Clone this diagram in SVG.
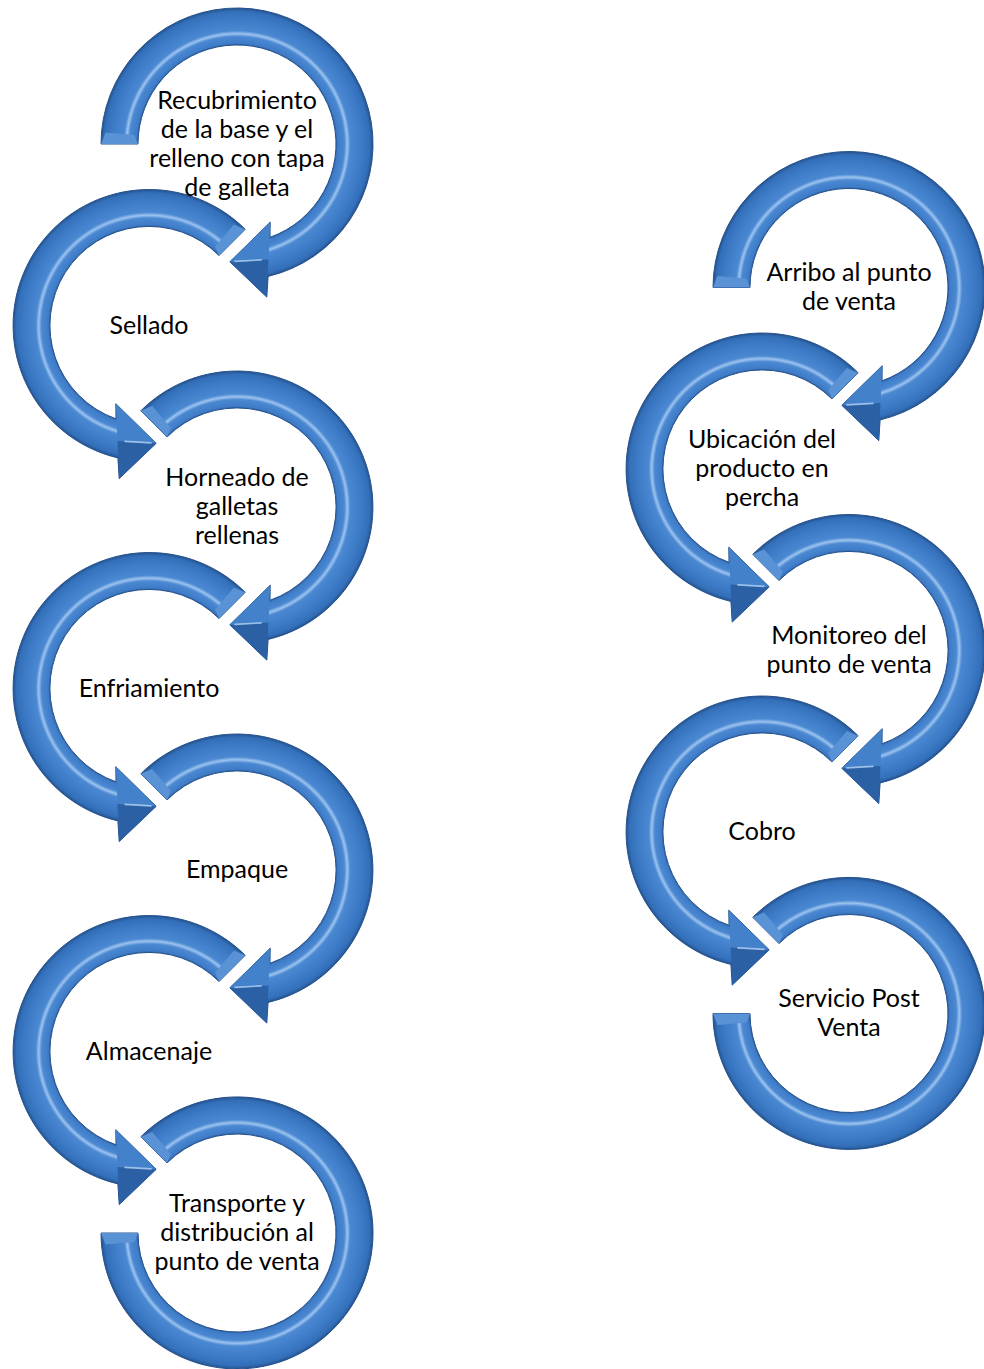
<svg xmlns="http://www.w3.org/2000/svg" xmlns:xlink="http://www.w3.org/1999/xlink" width="984" height="1369" viewBox="0 0 984 1369">
  <style>
    .band { fill: url(#tube); stroke: #24518c; stroke-width: 1; }
    .headHi { fill: #4381cb; }
    .headLo { fill: #2b60a5; }
    .ridge { stroke: #b4d3f4; stroke-width: 1.6; stroke-linecap: round; opacity: 0.8; fill: none; }
    .cap { fill: #5a92d6; }
    .label { font-family: Lato, "Open Sans", sans-serif; font-size: 25px; fill: #000; text-anchor: middle; }
  </style>
  <defs>
    <!-- tube shading across the band, centred on each ring's own origin -->
    <radialGradient id="tube" gradientUnits="userSpaceOnUse" cx="0" cy="0" r="156">
      <stop offset="0.545" stop-color="#2d63a8"/>
      <stop offset="0.632" stop-color="#2a5c9c"/>
      <stop offset="0.646" stop-color="#3f7cc8"/>
      <stop offset="0.688" stop-color="#4a88d2"/>
      <stop offset="0.707" stop-color="#9cc3ef"/>
      <stop offset="0.726" stop-color="#4a88d2"/>
      <stop offset="0.800" stop-color="#3d7bc7"/>
      <stop offset="0.850" stop-color="#336fb9"/>
      <stop offset="0.872" stop-color="#24528e"/>
      <stop offset="1" stop-color="#2a5e9f"/>
    </radialGradient>

    <!-- arrowhead facets shared by the clockwise rings -->
    <g id="head">
      <polygon class="headHi" points="-7.2,117.8 33.2,78.2 31.5,115.6"/>
      <polygon class="headLo" points="-7.2,117.8 29.8,153.1 31.5,115.6"/>
      <line class="ridge" x1="-2" y1="117.4" x2="24" y2="115.9"/>
    </g>

    <!-- first ring: flat tail at 9 o'clock, clockwise to the arrowhead -->
    <g id="ringFirst">
      <path class="band" d="M -136 0 A 136 136 0 1 1 31.1 132.4 L 29.8 153.1 L -7.2 117.8 L 33.2 78.2 L 33.0 93.3 A 99 99 0 1 0 -99 0 Z"/>
      <polygon class="cap" points="-136,0 -131.5,-11.5 -102.6,-9 -99,0"/>
      <use xlink:href="#head"/>
    </g>

    <!-- middle ring: tail at upper left, clockwise to the arrowhead -->
    <g id="ringMid">
      <path class="band" d="M -96.2 -96.2 A 136 136 0 1 1 31.1 132.4 L 29.8 153.1 L -7.2 117.8 L 33.2 78.2 L 33.0 93.3 A 99 99 0 1 0 -70 -70 Z"/>
      <polygon class="cap" points="-96.2,-96.2 -84.8,-101.1 -66.2,-78.9 -70,-70"/>
      <use xlink:href="#head"/>
    </g>

    <!-- last ring: tail at upper left, clockwise to a flat end at 9 o'clock -->
    <g id="ringLast">
      <path class="band" d="M -96.2 -96.2 A 136 136 0 1 1 -136 0 L -99 0 A 99 99 0 1 0 -70 -70 Z"/>
      <polygon class="cap" points="-96.2,-96.2 -84.8,-101.1 -66.2,-78.9 -70,-70"/>
      <polygon class="cap" points="-136,0 -131.5,11.5 -102.6,9 -99,0"/>
    </g>
  </defs>

  <!-- production chain (left column); drawn bottom-up so labels sit above the next ring -->
  <g id="n07">
    <use xlink:href="#ringLast" transform="translate(237,1233)"/>
    <text class="label" x="237" y="1212">Transporte y</text>
    <text class="label" x="237" y="1241">distribución al</text>
    <text class="label" x="237" y="1270">punto de venta</text>
  </g>
  <g id="n06">
    <use xlink:href="#ringMid" transform="translate(149,1051.5) scale(-1,1)"/>
    <text class="label" x="149" y="1059.5">Almacenaje</text>
  </g>
  <g id="n05">
    <use xlink:href="#ringMid" transform="translate(237,870)"/>
    <text class="label" x="237" y="878">Empaque</text>
  </g>
  <g id="n04">
    <use xlink:href="#ringMid" transform="translate(149,688.5) scale(-1,1)"/>
    <text class="label" x="149" y="696.5">Enfriamiento</text>
  </g>
  <g id="n03">
    <use xlink:href="#ringMid" transform="translate(237,507)"/>
    <text class="label" x="237" y="486">Horneado de</text>
    <text class="label" x="237" y="515">galletas</text>
    <text class="label" x="237" y="544">rellenas</text>
  </g>
  <g id="n02">
    <use xlink:href="#ringMid" transform="translate(149,325.5) scale(-1,1)"/>
    <text class="label" x="149" y="333.5">Sellado</text>
  </g>
  <g id="n01">
    <use xlink:href="#ringFirst" transform="translate(237,144)"/>
    <text class="label" x="237" y="108.5">Recubrimiento</text>
    <text class="label" x="237" y="137.5">de la base y el</text>
    <text class="label" x="237" y="166.5">relleno con tapa</text>
    <text class="label" x="237" y="195.5">de galleta</text>
  </g>

  <!-- point-of-sale chain (right column) -->
  <g id="p05">
    <use xlink:href="#ringLast" transform="translate(849,1013.5)"/>
    <text class="label" x="849" y="1007">Servicio Post</text>
    <text class="label" x="849" y="1036">Venta</text>
  </g>
  <g id="p04">
    <use xlink:href="#ringMid" transform="translate(762,832) scale(-1,1)"/>
    <text class="label" x="762" y="840">Cobro</text>
  </g>
  <g id="p03">
    <use xlink:href="#ringMid" transform="translate(849,650.5)"/>
    <text class="label" x="849" y="644">Monitoreo del</text>
    <text class="label" x="849" y="673">punto de venta</text>
  </g>
  <g id="p02">
    <use xlink:href="#ringMid" transform="translate(762,469) scale(-1,1)"/>
    <text class="label" x="762" y="448">Ubicación del</text>
    <text class="label" x="762" y="477">producto en</text>
    <text class="label" x="762" y="506">percha</text>
  </g>
  <g id="p01">
    <use xlink:href="#ringFirst" transform="translate(849,287.5)"/>
    <text class="label" x="849" y="281">Arribo al punto</text>
    <text class="label" x="849" y="310">de venta</text>
  </g>
</svg>
